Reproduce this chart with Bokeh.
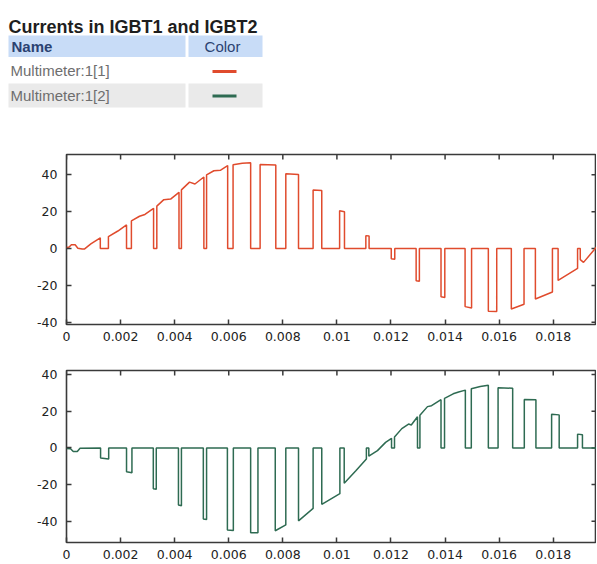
from bokeh.plotting import figure
from bokeh.layouts import column, row
from bokeh.models import FixedTicker, Range1d, ColumnDataSource
from bokeh.embed import file_html
from bokeh.resources import INLINE
from bokeh.core.properties import value

# ---------------- data ----------------
title_text = "Currents in IGBT1 and IGBT2"
legend_header = ["Name", "Color"]
series_names = ["Multimeter:1[1]", "Multimeter:1[2]"]
series_colors = ["#e04b2d", "#2e6b52"]

x_ticks = [0, 0.002, 0.004, 0.006, 0.008, 0.01, 0.012, 0.014, 0.016, 0.018]
x_tick_labels = ["0", "0.002", "0.004", "0.006", "0.008", "0.01", "0.012", "0.014", "0.016", "0.018"]
y_ticks = [-40, -20, 0, 20, 40]
y_tick_labels = ["-40", "-20", "0", "20", "40"]

x_max = 0.0196
top_y_range = (-41.2, 51.0)
bottom_y_range = (-51.6, 42.2)

# IGBT1 current (Multimeter:1[1]) breakpoints
t_igbt1 = [0.0, 0.0001, 0.00018, 0.00032, 0.00042, 0.00058, 0.00066, 0.0009, 0.00125,
           0.00125, 0.00155, 0.00155, 0.0019, 0.00222,
           0.00222, 0.0024, 0.0024, 0.0027, 0.0029, 0.00322,
           0.00322, 0.00334, 0.00334, 0.0036, 0.00385, 0.00416,
           0.00416, 0.00425, 0.00425, 0.00455, 0.00475, 0.00508,
           0.00508, 0.00518, 0.00518, 0.00545, 0.0057, 0.00596,
           0.00596, 0.00616, 0.00616, 0.0065, 0.00681,
           0.00681, 0.00716, 0.00716, 0.00774,
           0.00774, 0.00811, 0.00811, 0.00858,
           0.00858, 0.00912, 0.00912, 0.00944,
           0.00944, 0.0101, 0.0101, 0.01028,
           0.01028, 0.01107, 0.01107, 0.01119,
           0.01119, 0.01201, 0.01201, 0.01214,
           0.01214, 0.01293, 0.01293, 0.01305,
           0.01305, 0.01385, 0.01385, 0.01399,
           0.01399, 0.01474, 0.01474, 0.01498,
           0.01498, 0.0156, 0.0156, 0.01591,
           0.01591, 0.01645, 0.01645, 0.01692,
           0.01692, 0.01734, 0.01734, 0.01797,
           0.01797, 0.01818, 0.01818, 0.0189,
           0.0189, 0.019, 0.019, 0.01912, 0.0196]
i_igbt1 = [0.6, 0.8, 2.0, 2.0, 0.2, -0.3, -0.3, 2.5, 5.8,
           0.0, 0.0, 6.5, 9.5, 12.8,
           0.0, 0.0, 15.0, 17.5, 18.5, 21.8,
           0.0, 0.0, 23.0, 26.5, 26.8, 30.5,
           0.0, 0.0, 31.8, 36.0, 35.0, 38.8,
           0.0, 0.0, 40.0, 42.2, 42.5, 45.0,
           0.0, 0.0, 45.5, 46.2, 46.5,
           0.0, 0.0, 45.6, 45.3,
           0.0, 0.0, 40.5, 40.2,
           0.0, 0.0, 31.8, 31.5,
           0.0, 0.0, 20.5, 20.0,
           0.0, 0.0, 7.0, 6.8,
           0.0, 0.0, -5.6, -5.8,
           0.0, 0.0, -17.5, -17.8,
           0.0, 0.0, -26.2, -26.5,
           0.0, 0.0, -31.5, -32.2,
           0.0, 0.0, -34.0, -34.2,
           0.0, 0.0, -32.8, -30.2,
           0.0, 0.0, -27.4, -23.6,
           0.0, 0.0, -17.3, -10.8,
           0.0, 0.0, -6.0, -7.5, 0.8]

# IGBT2 current (Multimeter:1[2]) breakpoints
t_igbt2 = [0.0, 0.00015, 0.00025, 0.0004, 0.0005, 0.00126,
           0.00126, 0.00156, 0.00156, 0.00222,
           0.00222, 0.00242, 0.00242, 0.00321,
           0.00321, 0.00332, 0.00332, 0.00414,
           0.00414, 0.00425, 0.00425, 0.00506,
           0.00506, 0.00518, 0.00518, 0.00595,
           0.00595, 0.00617, 0.00617, 0.00681,
           0.00681, 0.00708, 0.00708, 0.00772,
           0.00772, 0.00811, 0.00811, 0.00858,
           0.00858, 0.00912, 0.00912, 0.00944,
           0.00944, 0.01011, 0.01011, 0.01027,
           0.01027, 0.0107, 0.01109, 0.01109, 0.01118,
           0.01118, 0.0115, 0.0118, 0.01202, 0.01202, 0.01213,
           0.01213, 0.0124, 0.01265, 0.01275, 0.01298, 0.01298, 0.01307,
           0.01307, 0.01335, 0.0135, 0.01385, 0.01385, 0.01398,
           0.01398, 0.0143, 0.0145, 0.01475, 0.01475, 0.01497,
           0.01497, 0.0153, 0.0156, 0.0156, 0.01596,
           0.01596, 0.0165, 0.0165, 0.01693,
           0.01693, 0.01736, 0.01736, 0.01794,
           0.01794, 0.01822, 0.01822, 0.0189,
           0.0189, 0.01908, 0.01908, 0.0196]
i_igbt2 = [-0.3, -0.5, -2.0, -2.0, -0.2, 0.0,
           -5.5, -6.0, 0.0, 0.0,
           -13.0, -13.5, 0.0, 0.0,
           -22.3, -22.5, 0.0, 0.0,
           -31.2, -31.5, 0.0, 0.0,
           -38.8, -39.0, 0.0, 0.0,
           -44.8, -45.0, 0.0, 0.0,
           -46.3, -46.3, 0.0, 0.0,
           -45.2, -42.0, 0.0, 0.0,
           -39.8, -33.0, 0.0, 0.0,
           -30.8, -25.0, 0.0, 0.0,
           -19.3, -12.5, -6.0, 0.0, 0.0,
           -4.5, -1.5, 3.0, 5.2, 0.0, 0.0,
           6.0, 10.5, 13.0, 12.5, 17.0, 0.0, 0.0,
           17.8, 22.5, 23.0, 26.3, 0.0, 0.0,
           27.0, 29.5, 30.5, 31.5, 0.0, 0.0,
           32.3, 33.5, 34.2, 0.0, 0.0,
           32.8, 32.5, 0.0, 0.0,
           26.4, 26.2, 0.0, 0.0,
           18.3, 18.0, 0.0, 0.0,
           7.5, 7.2, 0.0, 0.0]

# ---------------- layout ----------------
W = 596
HDR_H = 140
LEFT = 66
FONT = "Liberation Sans"
TICK_FONT = "DejaVu Sans"
FRAME_COLOR = "#3a3a3a"

hdr = figure(width=W, height=HDR_H, x_range=Range1d(0, W), y_range=Range1d(HDR_H, 0),
             x_axis_type=None, y_axis_type=None, output_backend="svg",
             toolbar_location=None, min_border=0)
hdr.grid.visible = False
hdr.outline_line_color = None

hdr.text(x=[8], y=[26], text=[title_text], text_font=value(FONT),
         text_font_size=value("18px"), text_font_style="bold", text_color="#1e1e1e",
         text_baseline="alphabetic", text_align="left")

# table header cells and shaded second row
hdr.quad(left=[8, 188], right=[185, 262], top=[35, 35], bottom=[56.5, 56.5],
         fill_color="#c8dcf7", line_color=None)
hdr.quad(left=[8, 188], right=[185, 262], top=[83, 83], bottom=[107, 107],
         fill_color="#eaeaea", line_color=None)

hdr.text(x=[11], y=[46], text=[legend_header[0]], text_font=value(FONT),
         text_font_size=value("15px"), text_font_style="bold", text_color="#2b4272",
         text_baseline="middle", text_align="left")
hdr.text(x=[222], y=[46], text=[legend_header[1]], text_font=value(FONT),
         text_font_size=value("15px"), text_color="#2b4272",
         text_baseline="middle", text_align="center")

row_y = [70, 94.5]
hdr.text(x=[10, 10], y=row_y, text=series_names, text_font=value(FONT),
         text_font_size=value("15px"), text_color="#6e6e6e",
         text_baseline="middle", text_align="left")
for k, c in enumerate(series_colors):
    hdr.line(x=[212, 236], y=[row_y[k] + 1, row_y[k] + 1], line_color=c, line_width=3)


def make_plot(t, i, color, yr, height, b_top, frame_h, b_bottom):
    p = figure(width=W, height=height, x_range=Range1d(0, x_max), y_range=Range1d(*yr),
               output_backend="svg", toolbar_location=None,
               min_border_left=LEFT, min_border_right=0,
               min_border_top=b_top, min_border_bottom=b_bottom)
    p.grid.visible = False
    p.outline_line_color = FRAME_COLOR
    p.outline_line_width = 1.6
    p.background_fill_color = "white"
    p.border_fill_color = "white"

    p.xaxis.ticker = FixedTicker(ticks=x_ticks)
    p.xaxis.major_label_overrides = {tk: lb for tk, lb in zip(x_ticks, x_tick_labels)}
    p.yaxis.ticker = FixedTicker(ticks=y_ticks)
    p.yaxis.major_label_overrides = {tk: lb for tk, lb in zip(y_ticks, y_tick_labels)}
    for ax in p.axis:
        ax.axis_line_color = None
        ax.major_tick_in = 5
        ax.major_tick_out = 0
        ax.major_tick_line_color = FRAME_COLOR
        ax.major_tick_line_width = 1.5
        ax.minor_tick_line_color = None
        ax.major_label_text_font = TICK_FONT
        ax.major_label_text_font_size = "12.5px"
        ax.major_label_text_color = "#222222"
    p.xaxis.major_label_standoff = 7
    p.yaxis.major_label_standoff = 9

    # mirrored inward ticks on the top and right edges of the frame
    frame_w = W - LEFT
    dy = 5.0 * (yr[1] - yr[0]) / frame_h
    dx = 5.0 * x_max / frame_w
    p.segment(x0=x_ticks, y0=[yr[1]] * len(x_ticks), x1=x_ticks, y1=[yr[1] - dy] * len(x_ticks),
              line_color=FRAME_COLOR, line_width=1.5)
    p.segment(x0=[x_max] * len(y_ticks), y0=y_ticks, x1=[x_max - dx] * len(y_ticks), y1=y_ticks,
              line_color=FRAME_COLOR, line_width=1.5)

    src = ColumnDataSource(dict(t=t, i=i))
    p.line("t", "i", source=src, line_color=color, line_width=1.5)
    return p


p1 = make_plot(t_igbt1, i_igbt1, series_colors[0], top_y_range, 215, 14, 170, 31)
p2 = make_plot(t_igbt2, i_igbt2, series_colors[1], bottom_y_range, 208, 15, 172, 21)

layout = column(row(hdr), p1, p2, spacing=0)
open("out.html", "w").write(file_html(layout, INLINE))
